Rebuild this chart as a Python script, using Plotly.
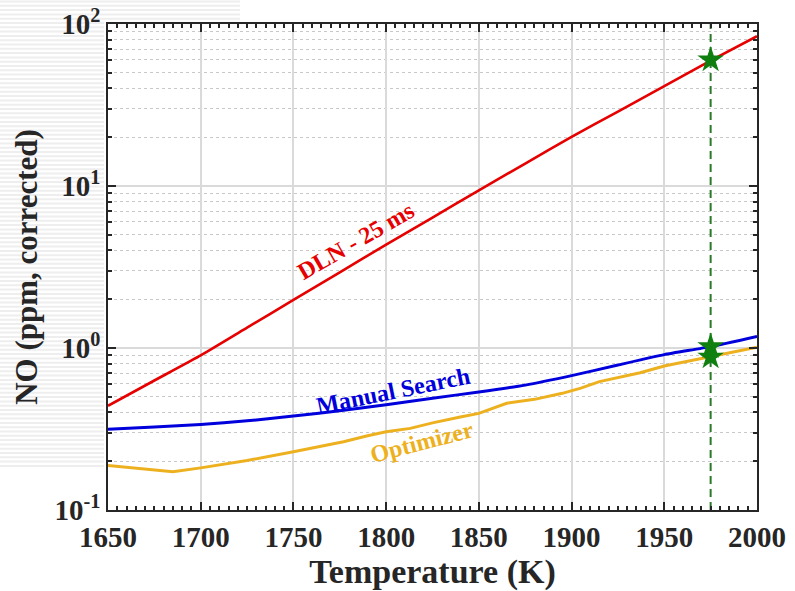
import numpy as np
import plotly.graph_objects as go

# ---- data -------------------------------------------------------------
temp_dln = [1650, 1675, 1700, 1725, 1750, 1775, 1800, 1825, 1850, 1875,
            1900, 1925, 1950, 1975, 2000]
no_dln = [0.44, 0.63, 0.90, 1.335, 1.98, 2.93, 4.35, 6.39, 9.4, 13.75,
          20.1, 28.8, 41.4, 59.5, 84.0]

temp_manual = [1650, 1675, 1700, 1725, 1750, 1775, 1800, 1825, 1850, 1875,
               1900, 1925, 1950, 1975, 2000]
no_manual = [0.315, 0.325, 0.337, 0.355, 0.380, 0.410, 0.447, 0.490, 0.535,
             0.590, 0.675, 0.785, 0.910, 1.02, 1.18]

temp_opt = [1650, 1685, 1700, 1725, 1750, 1777, 1790, 1800, 1813, 1825,
            1840, 1850, 1865, 1880, 1895, 1905, 1915, 1937, 1950, 1975, 2000]
no_opt = [0.188, 0.172, 0.182, 0.202, 0.229, 0.264, 0.287, 0.304, 0.319,
          0.345, 0.375, 0.395, 0.456, 0.482, 0.525, 0.565, 0.620, 0.704,
          0.774, 0.880, 1.01]

design_temp = 1975
design_points = [60.0, 1.02, 0.88]

x_ticks = [1650, 1700, 1750, 1800, 1850, 1900, 1950, 2000]
y_ticks = [0.1, 1, 10, 100]
y_ticktext = ["10<sup>-1</sup>", "10<sup>0</sup>", "10<sup>1</sup>", "10<sup>2</sup>"]

# ---- styling ----------------------------------------------------------
FONT = "Times New Roman, Liberation Serif, serif"
INK = "#262626"
RED = "#e60000"
BLUE = "#0000dc"
GOLD = "#EDB120"
GREEN = "#0f7f0f"

fig = go.Figure()

fig.add_trace(go.Scatter(x=temp_dln, y=no_dln, mode="lines",
                         line=dict(color=RED, width=2.6, shape="spline", smoothing=0.4),
                         showlegend=False))
fig.add_trace(go.Scatter(x=temp_manual, y=no_manual, mode="lines",
                         line=dict(color=BLUE, width=3, shape="spline", smoothing=0.5),
                         showlegend=False))
fig.add_trace(go.Scatter(x=temp_opt, y=no_opt, mode="lines",
                         line=dict(color=GOLD, width=3),
                         showlegend=False))

# vertical marker at the design temperature
fig.add_trace(go.Scatter(x=[design_temp, design_temp], y=[0.1, 100], mode="lines",
                         line=dict(color="#2a7a2a", width=2, dash="8px,5px"),
                         showlegend=False))
fig.add_trace(go.Scatter(x=[design_temp] * len(design_points), y=design_points,
                         mode="markers",
                         marker=dict(symbol="star", size=20, color=GREEN,
                                     line=dict(width=0)),
                         showlegend=False))

# curve labels
labels = [
    ("DLN - 25 ms", 0.382, 0.553, -30, RED),
    ("Manual Search", 0.439, 0.245, -11.5, BLUE),
    ("Optimizer", 0.484, 0.1405, -14.5, GOLD),
]
for text, xp, yp, ang, col in labels:
    fig.add_annotation(text=f"<b>{text}</b>", x=xp, y=yp, xref="paper", yref="paper",
                       textangle=ang, showarrow=False,
                       font=dict(family=FONT, size=24, color=col),
                       xanchor="center", yanchor="middle")

# faint striped backdrop in the upper-left margin
W, H = 795, 591
L, R, T, B = 108, 38, 24, 81
pw, ph = W - L - R, H - T - B
def px(xpix):
    return (xpix - L) / pw
def py(ypix):
    return (H - B - ypix) / ph
path = []
for yy in np.arange(1.5, 470, 4.3):
    xend = 240 if yy < 20 else 104
    path.append(f"M{px(0):.4f},{py(yy):.4f} L{px(xend):.4f},{py(yy):.4f}")
fig.add_shape(type="path", path=" ".join(path), xref="paper", yref="paper",
              line=dict(color="#eeeeee", width=2), layer="below")

axis_common = dict(
    showline=True, linecolor=INK, linewidth=1.8, mirror="allticks",
    ticks="inside", tickcolor=INK, tickwidth=1.5, ticklen=8,
    gridcolor="#dadada", gridwidth=1.5, zeroline=False,
    tickfont=dict(family=FONT, size=29, color=INK, weight="bold"),
)

fig.update_xaxes(
    range=[1650, 2000], tickvals=x_ticks,
    minor=dict(dtick=5, ticks="inside", ticklen=4, tickcolor=INK, showgrid=False),
    title=dict(text="Temperature (K)", standoff=6,
               font=dict(family=FONT, size=34, color=INK, weight="bold")),
    **axis_common,
)
fig.update_yaxes(
    type="log", range=[-1, 2], tickvals=y_ticks, ticktext=y_ticktext,
    minor=dict(dtick="D1", ticks="inside", ticklen=4, tickcolor=INK,
               showgrid=True, gridcolor="#c8c8c8", griddash="dot", gridwidth=1),
    title=dict(text="NO (ppm, corrected)", standoff=8,
               font=dict(family=FONT, size=31, color=INK, weight="bold")),
    **axis_common,
)

fig.update_layout(
    width=W, height=H,
    margin=dict(l=L, r=R, t=T, b=B, autoexpand=False),
    paper_bgcolor="white", plot_bgcolor="white",
    showlegend=False,
)

fig.write_html("out.html")
